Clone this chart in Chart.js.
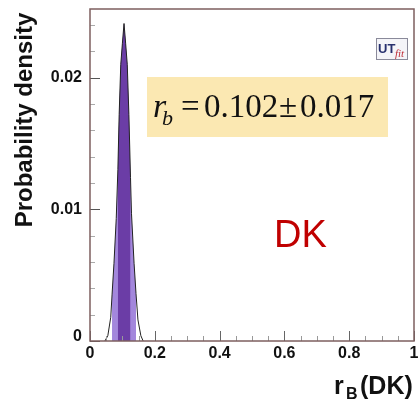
<!DOCTYPE html>
<html>
<head>
<meta charset="utf-8">
<script src="https://cdn.jsdelivr.net/npm/chart.js@4.4.1/dist/chart.umd.min.js"></script>
<style>
  html, body { margin: 0; padding: 0; background: #fff; }
  #wrap { width: 418px; height: 399px; position: relative; }
</style>
</head>
<body>
<div id="wrap"><canvas id="chart" width="418" height="399"></canvas></div>
<script>
// r_B(DK) posterior
const curveX = [0.046, 0.055, 0.064, 0.068, 0.074, 0.081, 0.086, 0.090, 0.095, 0.100, 0.105,
  0.110, 0.115, 0.120, 0.125, 0.128, 0.136, 0.142, 0.148, 0.157, 0.164];
const curveY = [0, 0.0004, 0.0018, 0.0035, 0.0059, 0.0093, 0.0130, 0.0172, 0.0210, 0.0226, 0.0241,
  0.0226, 0.0210, 0.0172, 0.0124, 0.0097, 0.0059, 0.0036, 0.0016, 0.0004, 0];

// 68% and 95% probability ranges
const band68 = [0.086, 0.125];
const band95 = [0.068, 0.142];

const xTicks = [0, 0.2, 0.4, 0.6, 0.8, 1];
const xTickLabels = ['0', '0.2', '0.4', '0.6', '0.8', '1'];
const yTicks = [0, 0.01, 0.02];
const yTickLabels = ['0', '0.01', '0.02'];

const curve = curveX.map((x, i) => ({ x, y: curveY[i] }));

function bandPoints([lo, hi]) {
  const inside = curve.filter((p) => p.x >= lo && p.x <= hi);
  return [{ x: lo, y: 0 }, ...inside, { x: hi, y: 0 }];
}

const frameColor = '#7d5f5f';

const rootAxes = {
  id: 'rootAxes',
  afterDatasetsDraw(chart) {
    const { ctx, chartArea: a, scales: { x, y } } = chart;
    ctx.save();

    // minor / major ticks, pointing inward
    ctx.lineWidth = 1;
    for (let v = 0; v <= 1.0001; v += 0.05) {
      const px = Math.round(x.getPixelForValue(v)) + 0.5;
      const major = Math.abs(v * 5 - Math.round(v * 5)) < 1e-6;
      ctx.strokeStyle = major ? '#666' : '#999';
      ctx.beginPath();
      ctx.moveTo(px, a.bottom);
      ctx.lineTo(px, a.bottom - (major ? 10 : 5));
      ctx.stroke();
    }
    for (let v = 0; v <= 0.0252; v += 0.002) {
      const py = Math.round(y.getPixelForValue(v)) + 0.5;
      const major = Math.abs(v * 100 - Math.round(v * 100)) < 1e-6;
      ctx.strokeStyle = major ? '#555' : '#aaa';
      ctx.beginPath();
      ctx.moveTo(a.left, py);
      ctx.lineTo(a.left + (major ? 10 : 5), py);
      ctx.stroke();
    }

    // frame
    ctx.strokeStyle = frameColor;
    ctx.lineWidth = 1.5;
    ctx.strokeRect(a.left, a.top, a.right - a.left, a.bottom - a.top);

    // tick labels
    ctx.fillStyle = '#111';
    ctx.font = 'bold 16px "Liberation Sans", Arial, sans-serif';
    ctx.textAlign = 'center';
    ctx.textBaseline = 'top';
    xTicks.forEach((v, i) => {
      const px = x.getPixelForValue(v);
      ctx.fillText(xTickLabels[i], px, a.bottom + 5);
    });
    ctx.textAlign = 'right';
    ctx.textBaseline = 'middle';
    yTicks.forEach((v, i) => {
      const py = y.getPixelForValue(v);
      ctx.fillText(yTickLabels[i], a.left - 8, i === 0 ? py - 4 : py);
    });

    // axis titles
    ctx.save();
    ctx.translate(32, 120);
    ctx.rotate(-Math.PI / 2);
    ctx.textAlign = 'center';
    ctx.textBaseline = 'alphabetic';
    ctx.font = 'bold 24px "Liberation Sans", Arial, sans-serif';
    ctx.fillText('Probability density', 0, 0);
    ctx.restore();

    ctx.textAlign = 'left';
    ctx.textBaseline = 'alphabetic';
    ctx.font = 'bold 25px "Liberation Sans", Arial, sans-serif';
    ctx.fillText('r', 334, 394);
    ctx.font = 'bold 16px "Liberation Sans", Arial, sans-serif';
    ctx.fillText('B', 346, 399);
    ctx.font = 'bold 25px "Liberation Sans", Arial, sans-serif';
    ctx.fillText('(DK)', 360, 394);

    // result box
    ctx.fillStyle = '#fbe8b2';
    ctx.fillRect(147, 77, 241, 60);
    ctx.fillStyle = '#111';
    ctx.font = 'italic 34px "Liberation Serif", "Times New Roman", serif';
    ctx.fillText('r', 153, 117);
    ctx.font = 'italic 22px "Liberation Serif", "Times New Roman", serif';
    ctx.fillText('b', 162, 125);
    ctx.font = '33px "Liberation Serif", "Times New Roman", serif';
    ctx.fillText('=', 181, 117);
    ctx.fillText('0.102', 204, 117);
    ctx.fillText('\u00b1', 279, 117);
    ctx.fillText('0.017', 300, 117);

    // DK label
    ctx.fillStyle = '#c00000';
    ctx.font = '38px "Liberation Sans", Arial, sans-serif';
    ctx.fillText('DK', 274, 247);

    // UTfit logo
    ctx.fillStyle = '#f4f4f8';
    ctx.fillRect(376, 38, 32, 21);
    ctx.strokeStyle = '#8a8a9a';
    ctx.lineWidth = 1;
    ctx.strokeRect(376.5, 38.5, 31, 21);
    ctx.fillStyle = '#27306e';
    ctx.font = 'bold 13px "Liberation Sans", Arial, sans-serif';
    ctx.fillText('UT', 378, 53);
    ctx.fillStyle = '#c0303a';
    ctx.font = 'italic 11px "Liberation Serif", serif';
    ctx.fillText('fit', 395, 57);

    ctx.restore();
  }
};

new Chart(document.getElementById('chart'), {
  type: 'line',
  data: {
    datasets: [
      {
        label: 'outline',
        data: curve,
        borderColor: '#222',
        borderWidth: 1,
        pointRadius: 0,
        fill: false,
        tension: 0,
        order: 0
      },
      {
        label: '68%',
        data: bandPoints(band68),
        borderWidth: 0,
        pointRadius: 0,
        backgroundColor: '#6b3da6',
        fill: 'origin',
        tension: 0,
        order: 1
      },
      {
        label: '95%',
        data: bandPoints(band95),
        borderWidth: 0,
        pointRadius: 0,
        backgroundColor: '#a387dc',
        fill: 'origin',
        tension: 0,
        order: 2
      }
    ]
  },
  options: {
    responsive: false,
    animation: false,
    events: [],
    layout: { padding: { left: 90, top: 9, right: 4, bottom: 58 } },
    plugins: { legend: { display: false }, tooltip: { enabled: false } },
    scales: {
      x: { type: 'linear', min: 0, max: 1, display: false },
      y: { type: 'linear', min: 0, max: 0.0252, display: false }
    }
  },
  plugins: [rootAxes]
});
</script>
</body>
</html>
